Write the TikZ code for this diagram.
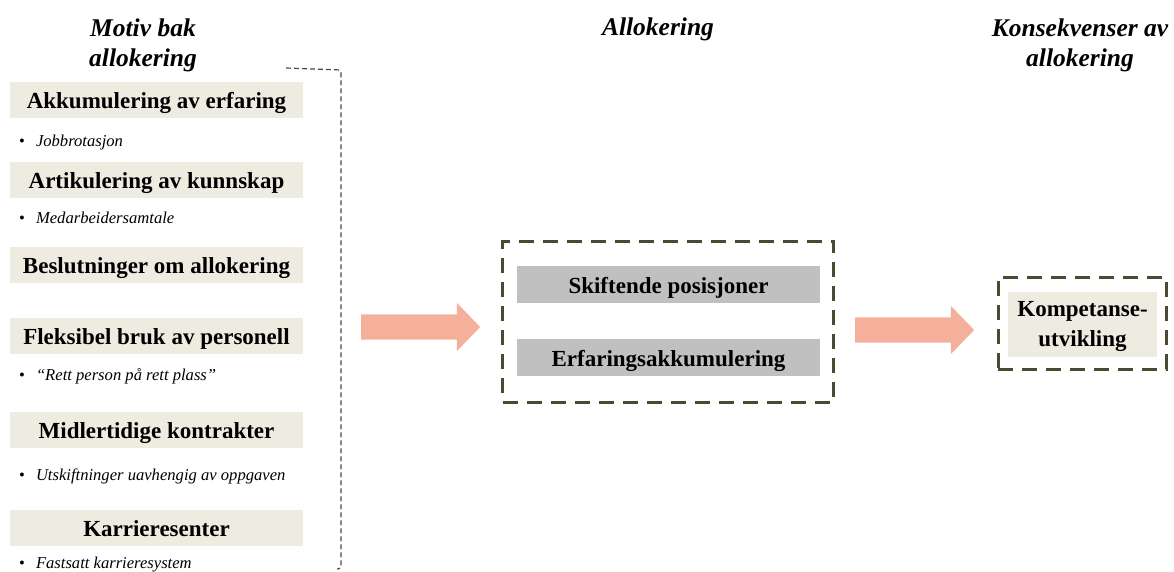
\documentclass[tikz,border=0pt]{standalone}
\usepackage{fontspec}
\setmainfont{Liberation Serif}
\usetikzlibrary{shapes.arrows}
\definecolor{boxBeige}{HTML}{EEEBE0}
\definecolor{boxGrey}{HTML}{C0C0C0}
\definecolor{arrowSalmon}{HTML}{F4B09B}
\definecolor{lineOlive}{HTML}{4D4832}
\tikzset{
  headAll/.style={align=center, inner sep=0pt, font=\bfseries\itshape\fontsize{25.5}{30}\selectfont},
  boxAll/.style={inner sep=0pt, align=center, font=\bfseries\fontsize{23}{30}\selectfont},
  boxMotiv/.style={fill=boxBeige, minimum width=293pt, minimum height=36pt, text height=16pt, text depth=0pt},
  boxAllok/.style={fill=boxGrey, minimum width=303pt, minimum height=37pt, text height=18pt, text depth=0pt},
  boxKons/.style={fill=boxBeige, minimum width=149pt, minimum height=65pt, text height=46pt, text depth=1.6pt},
  bulletText/.style={anchor=base west, inner sep=0pt, font=\fontsize{16.6}{20}\selectfont},
  frameDash/.style={draw=lineOlive, line width=3pt, dash pattern=on 15pt off 9pt},
  bigArrow/.style={single arrow, fill=arrowSalmon, inner xsep=0pt, inner ysep=12.5pt,
    minimum height=119pt, minimum width=48pt, single arrow head extend=11.5pt,
    single arrow tip angle=92}
}

\begin{document}
\begin{tikzpicture}[x=1pt, y=-1pt]
  \useasboundingbox (0,0) rectangle (1174,571);

  % headings
  \node[headAll] (head1) at (143,45) {Motiv bak\\allokering};
  \node[headAll] (head2) at (658,29) {Allokering};
  \node[headAll] (head3) at (1080,45) {Konsekvenser av\\allokering};

  % motiv
  \node[boxAll, boxMotiv] (M1) at (156.5,100) {Akkumulering av erfaring};
  \node[bulletText] (B1) at (19,146.5) {\textbullet\hspace{11pt}\textit{Jobbrotasjon}};
  \node[boxAll, boxMotiv] (M2) at (156.5,180) {Artikulering av kunnskap};
  \node[bulletText] (B2) at (19,223.5) {\textbullet\hspace{11pt}\textit{Medarbeidersamtale}};
  \node[boxAll, boxMotiv] (M3) at (156.5,265) {Beslutninger om allokering};
  \node[boxAll, boxMotiv] (M4) at (156.5,336) {Fleksibel bruk av personell};
  \node[bulletText] (B4) at (19,380) {\textbullet\hspace{11pt}\textit{``Rett person på rett plass''}};
  \node[boxAll, boxMotiv] (M5) at (156.5,430) {Midlertidige kontrakter};
  \node[bulletText] (B5) at (19,480) {\textbullet\hspace{11pt}\textit{Utskiftninger uavhengig av oppgaven}};
  \node[boxAll, boxMotiv] (M6) at (156.5,528) {Karrieresenter};
  \node[bulletText] (B6) at (19,568) {\textbullet\hspace{11pt}\textit{Fastsatt karrieresystem}};

  % brace
  \coordinate (braceTop) at (286,68);
  \coordinate (braceCorner) at (341,70);
  \coordinate (braceEnd) at (341,569);
  \draw[lineOlive, line width=1.2pt, dash pattern=on 5pt off 3pt, rounded corners=3pt]
    (braceTop) -- (braceCorner) -- (braceEnd) -- ++(-4,0);

  % allokering
  \node[frameDash, minimum width=331pt, minimum height=161pt] (frameA) at (668,321.5) {};
  \node[boxAll, boxAllok] (A1) at (668.5,284) {Skiftende posisjoner};
  \node[boxAll, boxAllok] (A2) at (668.5,357) {Erfaringsakkumulering};

  % konsekvenser
  \node[frameDash, minimum width=168pt, minimum height=92pt] (frameK) at (1082,323) {};
  \node[boxAll, boxKons] (K1) at (1082.5,324.5) {Kompetanse-\\utvikling};

  % arrows
  \node[bigArrow] (arrowA) at (414.5,327) {};
  \node[bigArrow] (arrowB) at (908.5,330) {};
\end{tikzpicture}
\end{document}
